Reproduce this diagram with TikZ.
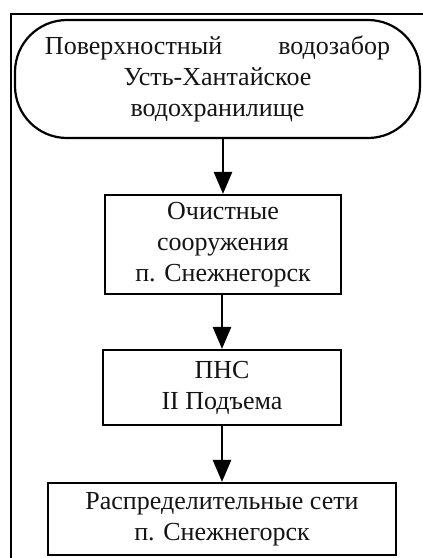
\documentclass[tikz,border=0pt]{standalone}
\usepackage{fontspec}
\setmainfont{Liberation Serif}
\usetikzlibrary{arrows.meta}
\begin{document}
\begin{tikzpicture}[x=1pt,y=-1pt,
  every node/.style={font=\fontsize{26}{31}\selectfont, text=black!92, align=center, inner sep=0pt},
  procbox/.style={draw, line width=2.2pt, rectangle},
  termbox/.style={draw, line width=2.2pt, rectangle, rounded corners=52pt},
  flow/.style={line width=2.8pt, -{Triangle[length=22pt,width=18pt]}}]
  \useasboundingbox (0,0) rectangle (423,558);
  \fill[white] (0,0) rectangle (423,558);
  % outer frame, running past the page edges on the right and bottom
  \begin{scope}
    \clip (0,0) rectangle (423,558);
    \draw[line width=2.6pt] (11,14) rectangle (440,580);
  \end{scope}
  % blocks of the flow chart
  \node[termbox, minimum width=405pt, minimum height=118pt] (src) at (217.5,79)
    {\makebox[345pt]{Поверхностный\hfill водозабор}\\ Усть-Хантайское\\ водохранилище};
  \node[procbox, minimum width=236pt, minimum height=99pt] (treat) at (223,244.5)
    {Очистные\\ сооружения\\ п. Снежнегорск};
  \node[procbox, minimum width=238pt, minimum height=75pt] (pump) at (222,387.5)
    {ПНС\\ II Подъема};
  \node[procbox, minimum width=348pt, minimum height=72pt] (net) at (222,519)
    {Распределительные сети\\ п. Снежнегорск};
  % connectors
  \draw[flow] (treat.north |- src.south) -- (treat.north);
  \draw[flow] (pump.north |- treat.south) -- (pump.north);
  \draw[flow] (pump.south) -- (net.north);
\end{tikzpicture}
\end{document}
